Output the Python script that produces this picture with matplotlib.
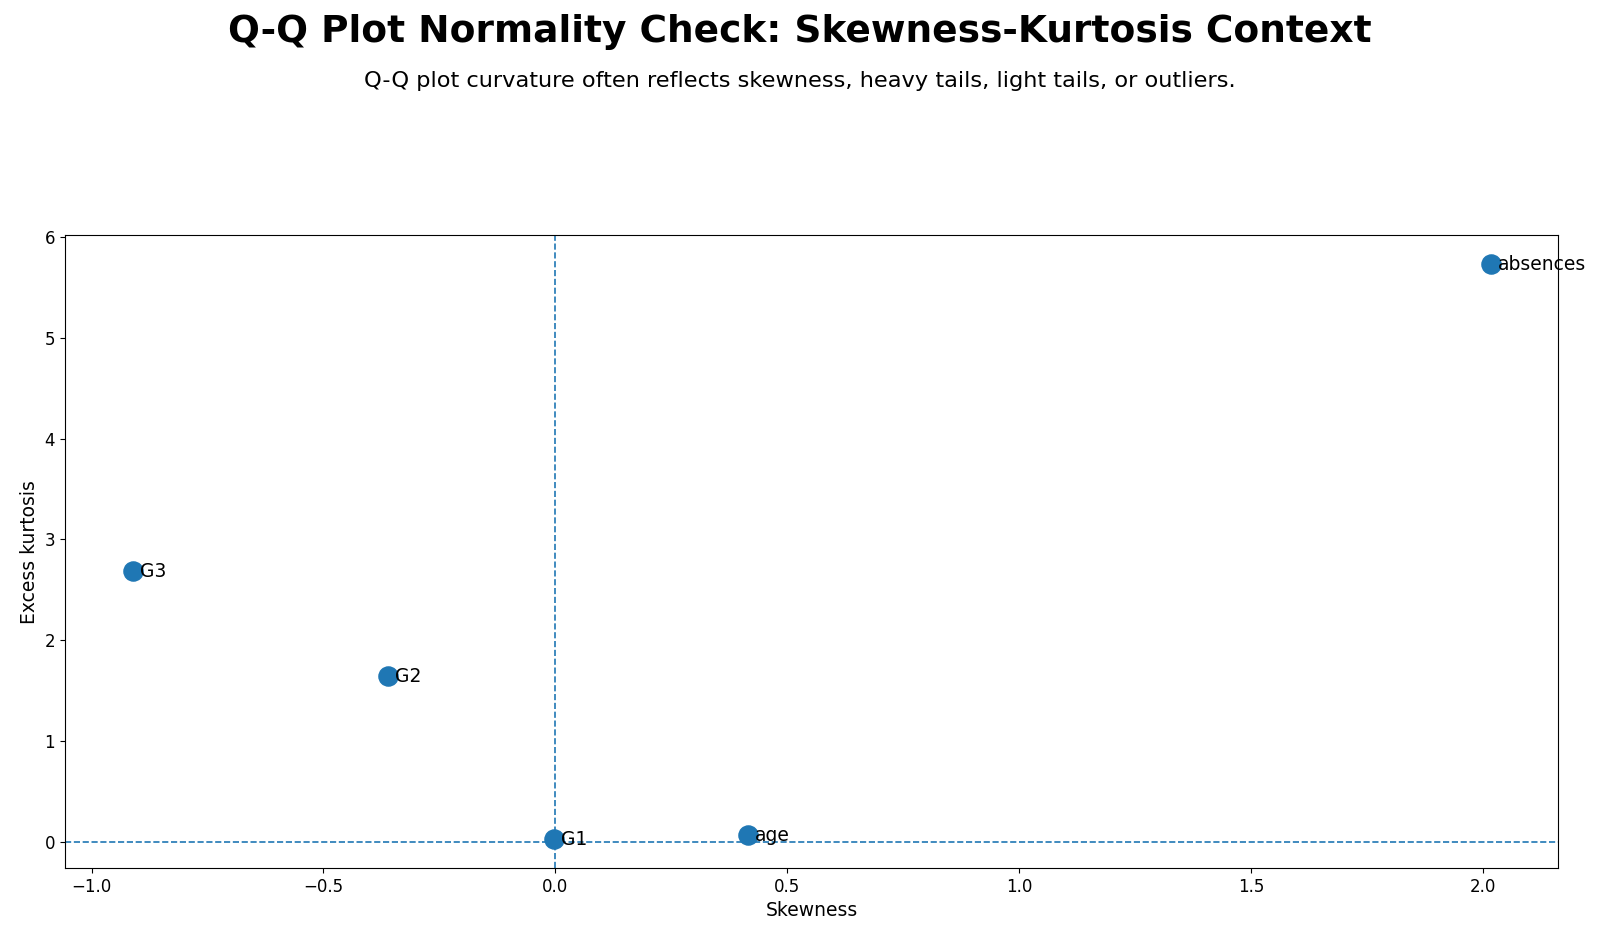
import matplotlib
matplotlib.use("Agg")
import matplotlib.pyplot as plt

# skewness / excess kurtosis per variable
variables = ["G3", "G2", "G1", "age", "absences"]
skewness = [-0.911, -0.360, -0.002, 0.415, 2.016]
kurtosis = [2.687, 1.646, 0.030, 0.070, 5.727]

fig, ax = plt.subplots(figsize=(16, 9.38), dpi=100)
fig.subplots_adjust(left=0.0406, right=0.974, top=0.749, bottom=0.0746)

ax.scatter(skewness, kurtosis, s=190, color="#1f77b4", zorder=3)
for name, sx, ky in zip(variables, skewness, kurtosis):
    ax.annotate(name, (sx, ky), xytext=(5, 0), textcoords="offset points",
                va="center", fontsize=13.5, annotation_clip=False)

ax.axhline(0, linestyle="--", linewidth=1.2, color="#1f77b4")
ax.axvline(0, linestyle="--", linewidth=1.2, color="#1f77b4")

ax.set_xlabel("Skewness", fontsize=13.5)
ax.set_ylabel("Excess kurtosis", fontsize=13.5)
ax.tick_params(labelsize=12)

fig.suptitle("Q-Q Plot Normality Check: Skewness-Kurtosis Context",
             fontsize=27, fontweight="bold", y=0.966, va="center")
fig.text(0.5, 0.914, "Q-Q plot curvature often reflects skewness, heavy tails, light tails, or outliers.",
         ha="center", va="center", fontsize=16.2)

fig.savefig("out.png")
